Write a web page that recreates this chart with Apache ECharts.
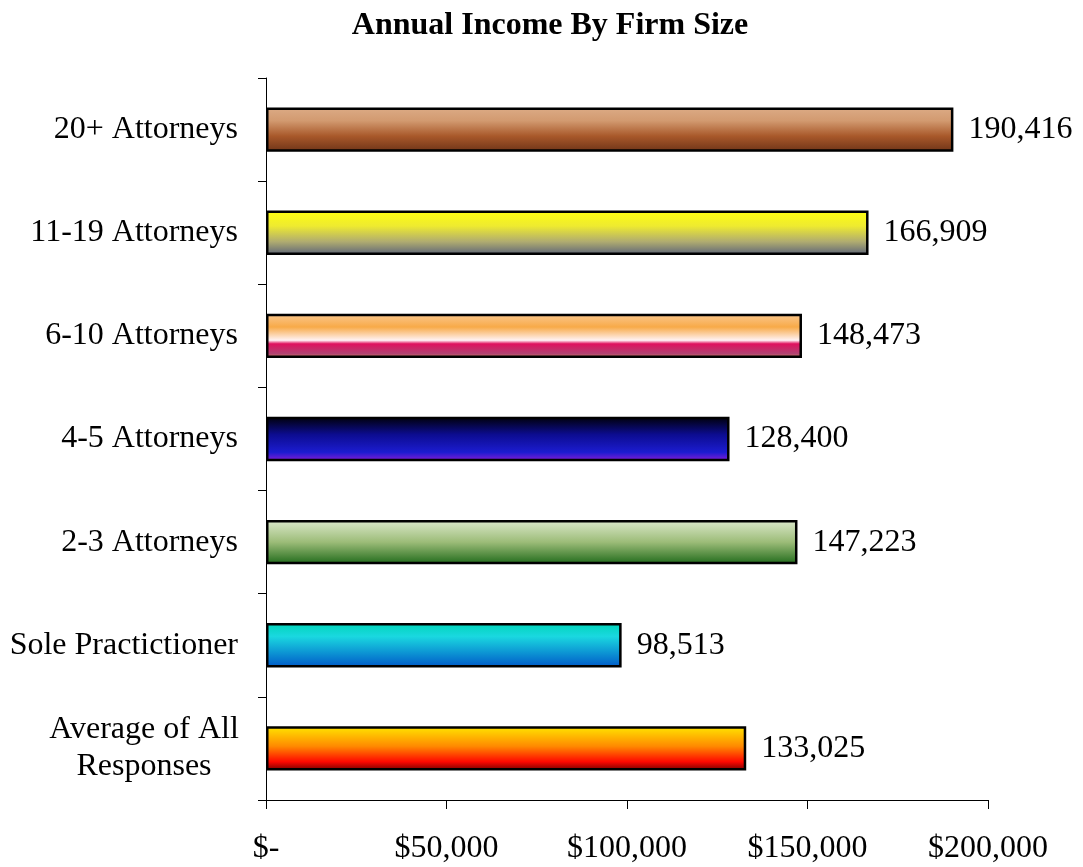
<!DOCTYPE html>
<html>
<head>
<meta charset="utf-8">
<script src="https://cdn.jsdelivr.net/npm/echarts@6/dist/echarts.min.js"></script>
<style>
  html, body { margin: 0; padding: 0; background: #fff; }
  #chart { width: 1083px; height: 867px; }
</style>
</head>
<body>
<div id="chart"></div>
<script>
// bottom to top, as drawn on the category axis
const categories = [
  "Average of All Responses",
  "Sole Practictioner",
  "2-3 Attorneys",
  "4-5 Attorneys",
  "6-10 Attorneys",
  "11-19 Attorneys",
  "20+ Attorneys"
];
const income = [133025, 98513, 147223, 128400, 148473, 166909, 190416];
const xTicks = [0, 50000, 100000, 150000, 200000];

// gradient stops for each bar (top -> bottom)
const barGradients = [
  [[0, "#ffe600"], [0.45, "#ff8a00"], [0.8, "#ff0800"], [1, "#700000"]],
  [[0, "#00d4b8"], [0.3, "#1ad8e0"], [1, "#0058c8"]],
  [[0, "#dce9cc"], [0.5, "#9cbc78"], [1, "#1f6a1a"]],
  [[0, "#000008"], [0.4, "#0c0c90"], [0.8, "#1c1cd0"], [1, "#8a1cd8"]],
  [[0, "#fac890"], [0.3, "#f8aa48"], [0.6, "#fff2f4"], [0.68, "#e0105e"], [0.9, "#b04272"], [1, "#d8845a"]],
  [[0, "#ffff10"], [0.35, "#eeea30"], [0.7, "#b0ac70"], [1, "#5c6478"]],
  [[0, "#dcab86"], [0.3, "#d29a70"], [0.65, "#a8582a"], [1, "#6e3418"]]
];

function grad(stops) {
  return new echarts.graphic.LinearGradient(0, 0, 0, 1,
    stops.map(s => ({ offset: s[0], color: s[1] })));
}

const fmt = v => v.toLocaleString("en-US");
const font = "Liberation Serif";
const fs = 32;

const chart = echarts.init(document.getElementById("chart"));
chart.setOption({
  animation: false,
  title: {
    text: "Annual Income By Firm Size",
    left: 545,
    textAlign: "center",
    top: 5,
    textStyle: { fontFamily: font, fontSize: fs, fontWeight: "bold", color: "#000" }
  },
  grid: { left: 266, right: 95, top: 78, bottom: 67 },
  xAxis: {
    type: "value",
    min: 0,
    max: 200000,
    interval: 50000,
    splitLine: { show: false },
    axisLine: { show: true, lineStyle: { color: "#000", width: 1 } },
    axisTick: { show: true, length: 9, lineStyle: { color: "#000" } },
    axisLabel: {
      margin: 33,
      fontFamily: font,
      fontSize: fs,
      color: "#000",
      customValues: xTicks,
      formatter: v => v === 0 ? "$-" : "$" + fmt(v)
    }
  },
  yAxis: {
    type: "category",
    data: categories,
    axisLine: { show: true, lineStyle: { color: "#000", width: 1 } },
    axisTick: { show: true, length: 8, lineStyle: { color: "#000" } },
    axisLabel: {
      margin: 28,
      fontFamily: font,
      fontSize: fs,
      color: "#000",
      lineHeight: 37,
      formatter: v => v === "Average of All Responses"
        ? "{c|Average of All}\n{c|Responses}"
        : v,
      rich: {
        c: { width: 188, align: "center", fontFamily: font, fontSize: fs, color: "#000", lineHeight: 37 }
      }
    }
  },
  series: [{
    type: "bar",
    barWidth: "43%",
    data: income.map((v, i) => ({
      value: v,
      itemStyle: { color: grad(barGradients[i]) }
    })),
    itemStyle: { borderColor: "#000", borderWidth: 2.5 },
    label: {
      show: true,
      position: "right",
      distance: 15,
      fontFamily: font,
      fontSize: fs,
      color: "#000",
      formatter: p => fmt(p.value)
    }
  }]
});
</script>
</body>
</html>
